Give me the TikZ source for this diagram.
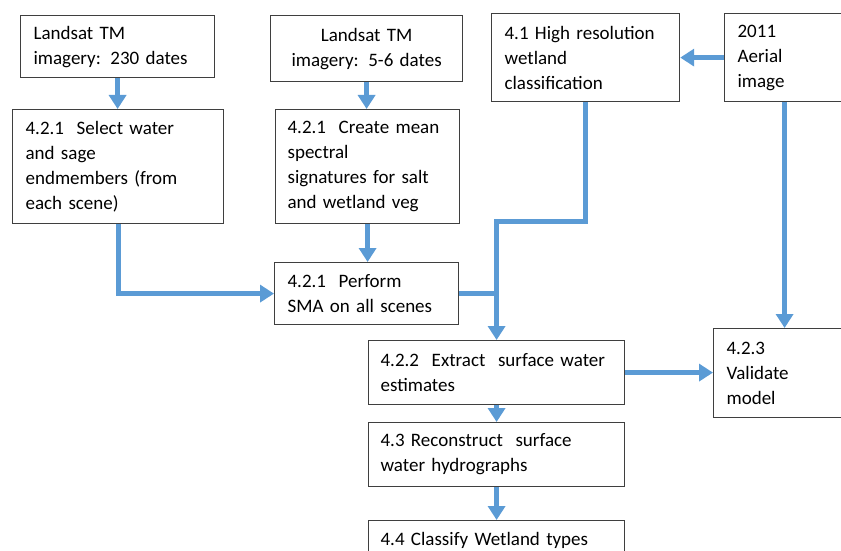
\documentclass[tikz,border=0pt]{standalone}
\usepackage{fontspec}
\setmainfont{Carlito}
\usetikzlibrary{arrows.meta}

\definecolor{flowblue}{HTML}{5B9BD5}
\definecolor{boxgray}{HTML}{3F3F3F}

\begin{document}
\begin{tikzpicture}[x=1pt, y=-1pt,
        stepbox/.style = {draw=boxgray, line width=1.2pt, anchor=north west, align=left,
                          inner xsep=13pt, inner ysep=0pt,
                          font=\fontsize{19}{25}\selectfont},
        flow/.style    = {draw=flowblue, line width=5pt, -{Triangle[length=14pt,width=17pt]}},
        link/.style    = {draw=flowblue, line width=5pt},
      ]
  \useasboundingbox (0,0) rectangle (841,551);
  \clip (0,0) rectangle (841,551);

  % input imagery
  \node[stepbox, text width=168pt, minimum height=62pt](tm230) at (20,15) {Landsat TM\\imagery: 230 dates};
  \node[stepbox, text width=166pt, minimum height=66pt, align=center](tm56) at (270,15) {Landsat TM\\imagery: 5-6 dates};
  \node[stepbox, text width=162pt, minimum height=88pt](hires) at (491,13) {4.1 High resolution\\wetland\\classification};
  \node[stepbox, text width=94pt, minimum height=88pt](aerial) at (724,13) {2011\\Aerial\\image};

  % endmembers and SMA
  \node[stepbox, text width=185pt, minimum height=114pt](select) at (12,109) {4.2.1 \ Select water\\and sage\\endmembers (from\\each scene)};
  \node[stepbox, text width=160pt, minimum height=114pt, inner xsep=12pt](mean) at (275,109) {4.2.1 \ Create mean\\spectral\\signatures for salt\\and wetland veg};
  \node[stepbox, text width=158pt, minimum height=62pt](sma) at (274,262) {4.2.1 \ Perform\\SMA on all scenes};

  % water estimates and products
  \node[stepbox, text width=232pt, minimum height=64pt, inner xsep=12pt](extract) at (368,340) {4.2.2 \ Extract \ surface water\\estimates};
  \node[stepbox, text width=232pt, minimum height=64pt, inner xsep=12pt](hydro) at (368,422) {4.3 Reconstruct \ surface\\water hydrographs};
  \node[stepbox, text width=232pt, minimum height=40pt, inner xsep=12pt](classify) at (368,520) {4.4 Classify Wetland types};
  \node[stepbox, text width=104pt, minimum height=89pt](validate) at (713,328) {4.2.3\\Validate\\model};

  \coordinate (join) at (extract.north |- 0,221);

  % connectors
  \path[flow] (tm230.south) -- (tm230.south |- select.north);
  \path[flow] (tm56.south) -- (tm56.south |- mean.north);
  \path[flow] (mean.south) -- (mean.south |- sma.north);
  \path[flow] (select.south) |- (sma.west);
  \path[link] (sma.east) -- (sma.east -| join);
  \path[flow] (hires.south) |- (join) -- (extract.north);
  \path[flow] (aerial.west) -- (hires.east);
  \path[flow] (aerial.south) -- (aerial.south |- validate.north);
  \path[flow] (extract.east) -- (extract.east -| validate.west);
  \path[flow] (extract.south) -- (hydro.north);
  \path[flow] (hydro.south) -- (classify.north);

\end{tikzpicture}
\end{document}
